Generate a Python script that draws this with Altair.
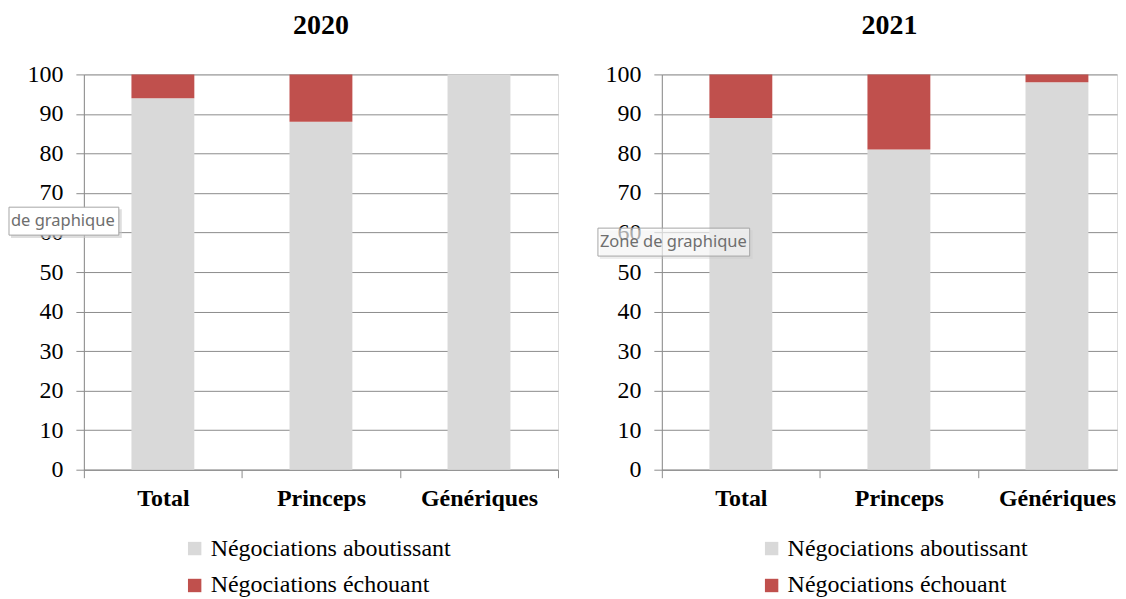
import altair as alt
import pandas as pd

categories = ["Total", "Princeps", "Génériques"]
series = ["Négociations aboutissant", "Négociations échouant"]
years = ["2020", "2021"]
aboutissant = {"2020": [94, 88, 100], "2021": [89, 81, 98]}
echouant = {"2020": [6, 12, 0], "2021": [11, 19, 2]}
y_ticks = [0, 10, 20, 30, 40, 50, 60, 70, 80, 90, 100]
tooltips = {"2020": "de graphique", "2021": "Zone de graphique"}

colors = ["#D9D9D9", "#C0504D"]
SERIF = "Liberation Serif"
GRID = "#8C8C8C"
H = 396
STEP = 475 / 3


def panel(year, width, xmax, tip_x, tip_y, tip_w, tip_opacity, legend_x):
    rows = []
    for i, c in enumerate(categories):
        rows.append({"cat": c, "pos": i + 0.5, "series": series[0], "value": aboutissant[year][i], "ord": 0})
        rows.append({"cat": c, "pos": i + 0.5, "series": series[1], "value": echouant[year][i], "ord": 1})
    df = pd.DataFrame(rows)
    tick_vals = [v for v in range(len(categories) + 1) if v <= xmax + 1e-9]
    label_expr = " : ".join(
        f"datum.value == {i} ? '{c}'" for i, c in enumerate(categories)
    ) + " : ''"
    bars = alt.Chart(df).mark_bar(width=63).encode(
        x=alt.X(
            "pos:Q",
            scale=alt.Scale(domain=[0, xmax], nice=False, zero=False, padding=0),
            axis=alt.Axis(
                values=tick_vals,
                labelExpr=label_expr,
                labelOffset=STEP / 2,
                labelFont=SERIF,
                labelFontSize=24,
                labelFontWeight="bold",
                labelColor="#000000",
                labelPadding=9,
                tickSize=8,
                tickColor=GRID,
                domainColor=GRID,
                grid=False,
                title=None,
                labelOverlap=False,
                labelFlush=False,
                labelBound=False,
            ),
        ),
        y=alt.Y(
            "value:Q",
            stack="zero",
            scale=alt.Scale(domain=[0, 100], nice=False, padding=0),
            axis=alt.Axis(
                values=y_ticks,
                labelFont=SERIF,
                labelFontSize=24,
                labelColor="#000000",
                labelPadding=13,
                tickSize=8,
                tickColor=GRID,
                domainColor=GRID,
                gridColor=GRID,
                title=None,
            ),
        ),
        color=alt.Color(
            "series:N",
            scale=alt.Scale(domain=series, range=colors),
            legend=alt.Legend(
                orient="none",
                legendX=legend_x,
                legendY=463,
                direction="vertical",
                title=None,
                symbolType="square",
                symbolSize=180,
                symbolStrokeWidth=0,
                labelFont=SERIF,
                labelFontSize=24,
                labelColor="#000000",
                labelLimit=0,
                rowPadding=13,
                padding=0,
                labelOffset=4,
            ),
        ),
        order=alt.Order("ord:Q"),
    )
    tipdf = pd.DataFrame({"t": [tooltips[year]]})
    shadow = alt.Chart(tipdf).mark_rect(fill="#C8C8C8", opacity=0.6 * tip_opacity).encode(
        x=alt.value(tip_x + 2), x2=alt.value(tip_x + tip_w + 3),
        y=alt.value(tip_y + 2), y2=alt.value(tip_y + 31),
    )
    box = alt.Chart(tipdf).mark_rect(
        fill="#FFFFFF", fillOpacity=tip_opacity, stroke="#A6A6A6", strokeWidth=1
    ).encode(
        x=alt.value(tip_x), x2=alt.value(tip_x + tip_w),
        y=alt.value(tip_y), y2=alt.value(tip_y + 28),
    )
    txt = alt.Chart(tipdf).mark_text(
        align="left", baseline="middle", font="Noto Sans", fontSize=16.5, color="#6E6E6E"
    ).encode(
        x=alt.value(tip_x + 2), y=alt.value(tip_y + 14), text="t:N"
    )
    return alt.layer(bars, shadow, box, txt).properties(
        width=width,
        height=H,
        title=alt.TitleParams(
            year, font=SERIF, fontSize=28, fontWeight="bold", color="#000000",
            anchor="middle", offset=22,
        ),
    )


left = panel("2020", 475, 3, -75, 133, 110, 1.0, 99)
right_w = 456
right = panel("2021", right_w, right_w / STEP, -64, 154, 152, 0.55, 98)

chart = alt.hconcat(left, right, spacing=104).properties(
    bounds="flush",
    padding={"left": 0, "top": 3, "right": 0, "bottom": 0},
).resolve_scale(color="independent").configure_view(stroke=None).configure(
    background="#FFFFFF"
)

chart.save("out.html", embed_options={"renderer": "svg", "actions": False})
